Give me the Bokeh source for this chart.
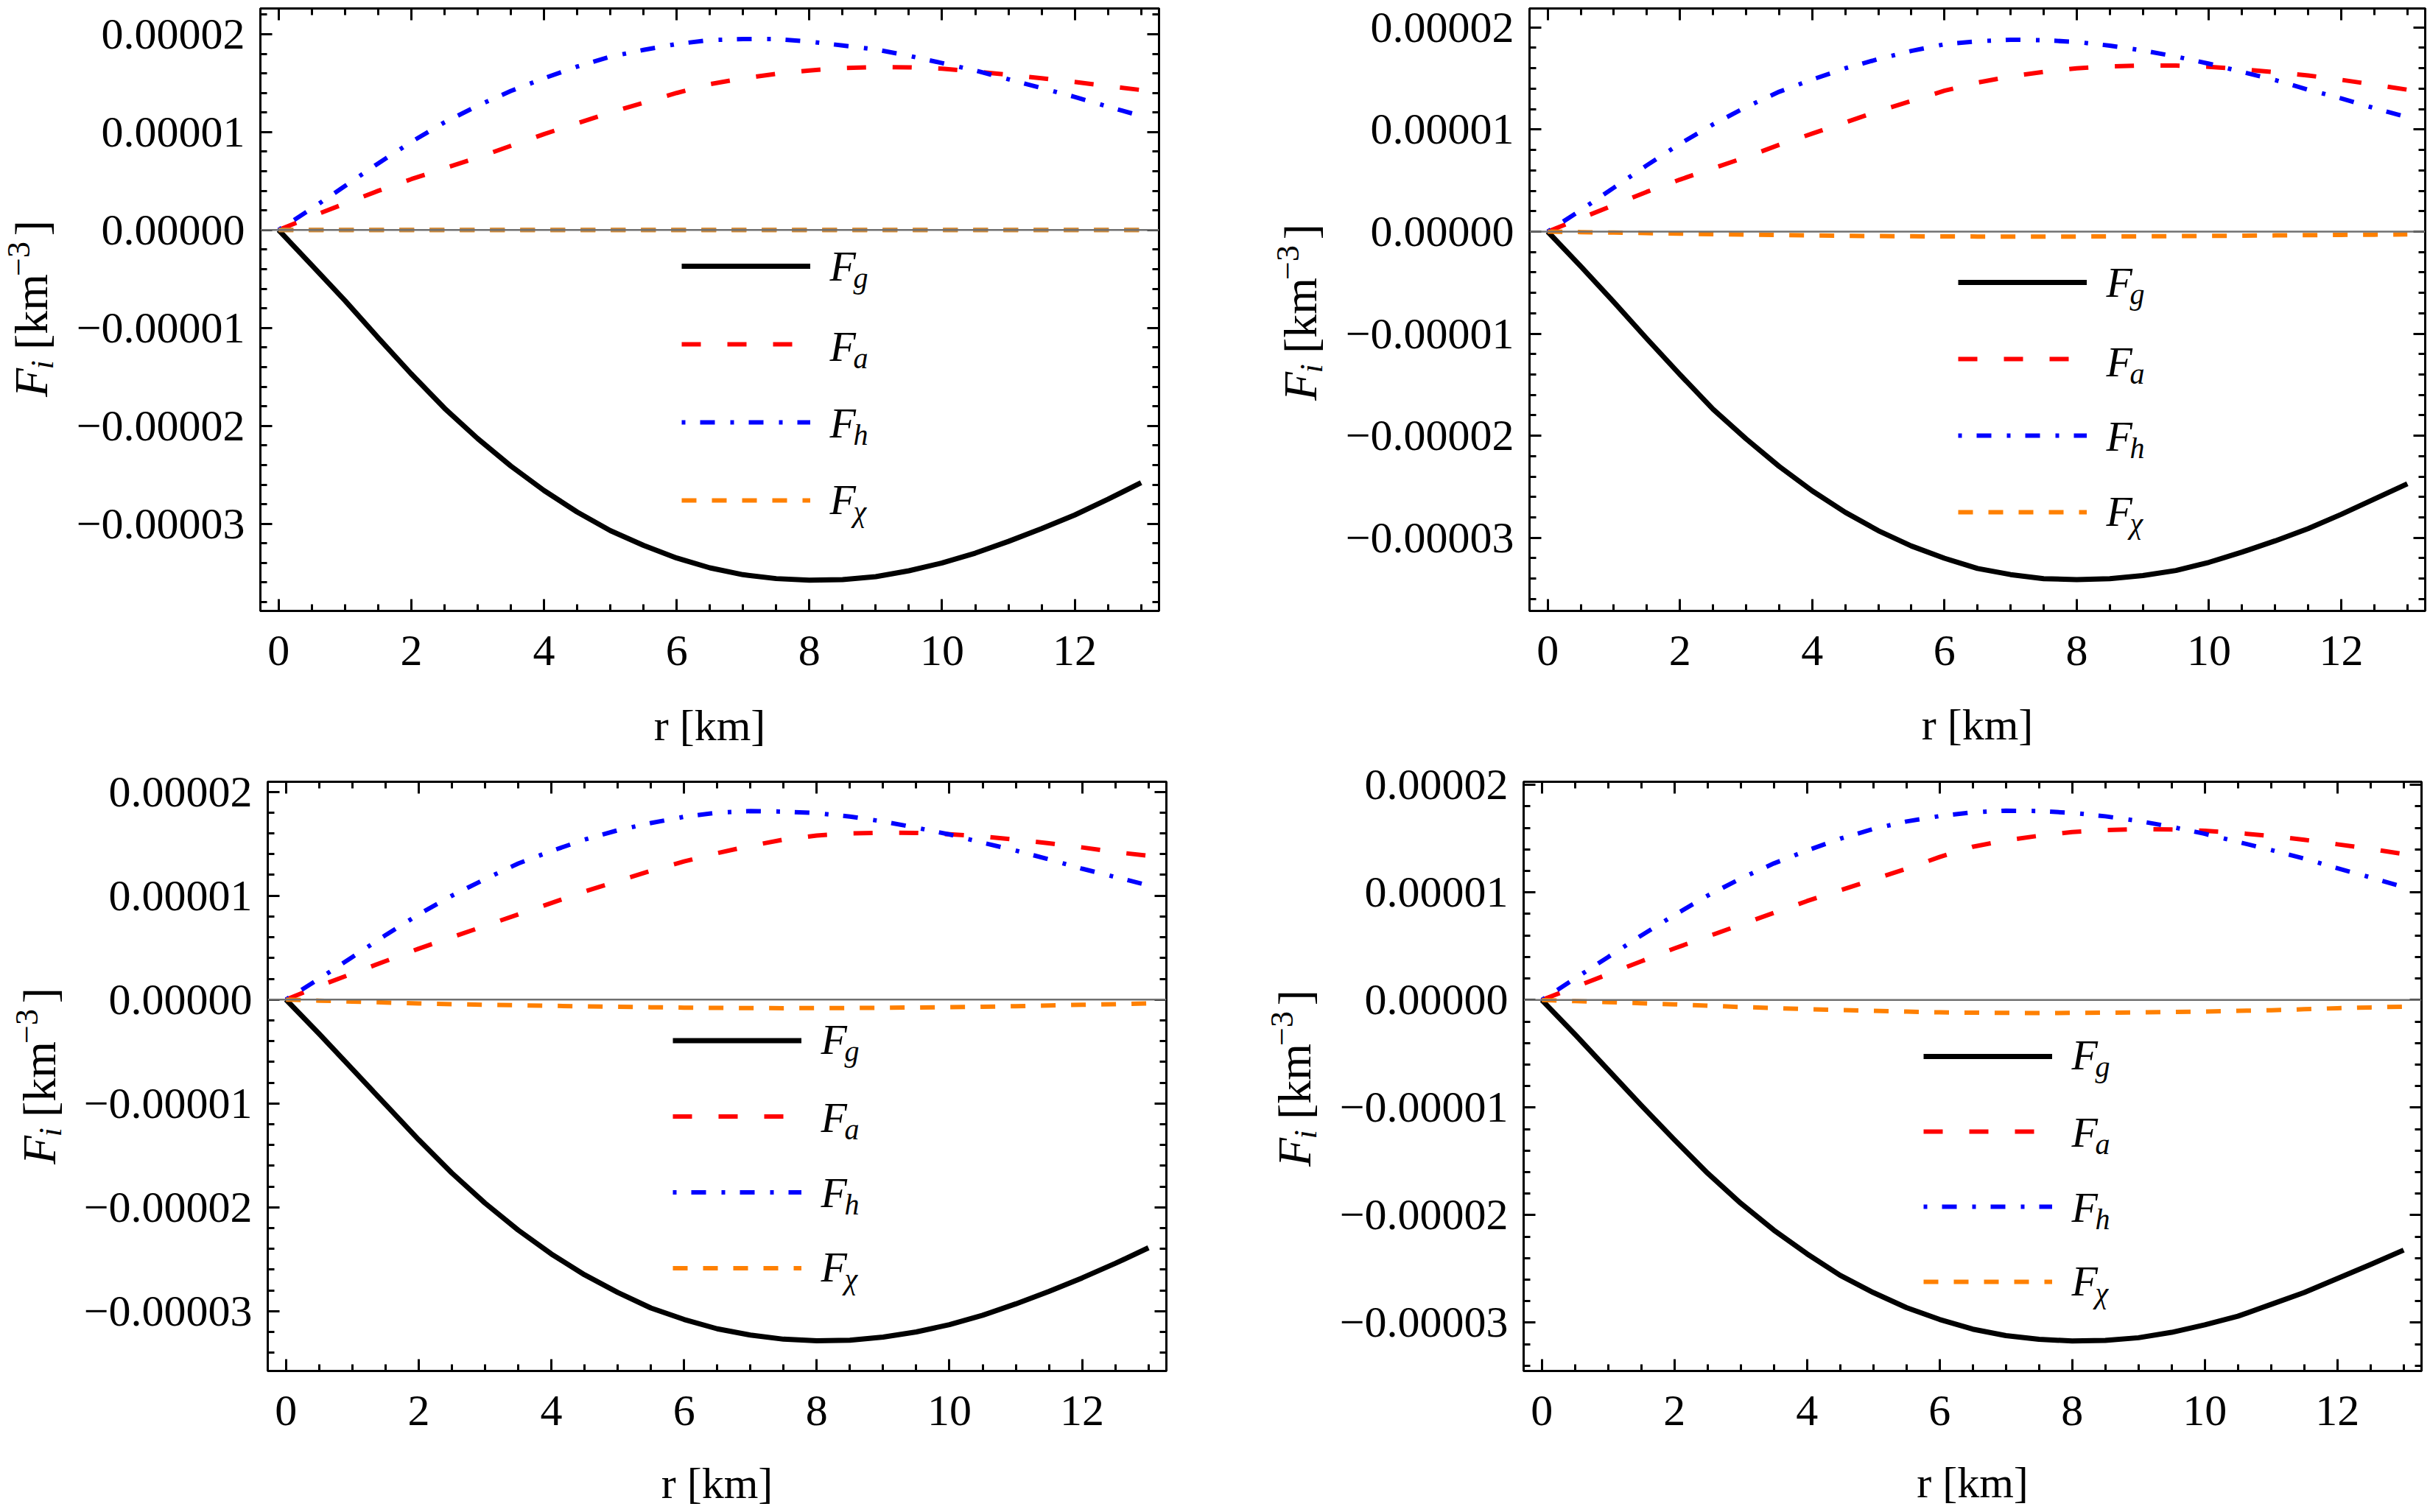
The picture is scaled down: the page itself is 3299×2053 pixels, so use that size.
import math
from bokeh.plotting import figure
from bokeh.models import (Range1d, LinearAxis, FixedTicker, CustomJSTickFormatter,
                          Span, Legend, LegendItem, Label)
from bokeh.layouts import row, column
from bokeh.embed import file_html
from bokeh.resources import INLINE

# ---------------- data (values in units of 1e-5 km^-3) ----------------
r_km = [0, 0.5, 1, 1.5, 2, 2.5, 3, 3.5, 4, 4.5, 5, 5.5, 6, 6.5, 7, 7.5, 8, 8.5,
        9, 9.5, 10, 10.5, 11, 11.5, 12, 12.5, 13]
UNIT = 1e-5

tl_Fg = [0, -0.36, -0.72, -1.10, -1.47, -1.82, -2.13, -2.41, -2.66, -2.88, -3.07, -3.22,
         -3.35, -3.45, -3.52, -3.56, -3.576, -3.57, -3.54, -3.48, -3.40, -3.30, -3.18,
         -3.05, -2.91, -2.75, -2.58]
tl_Fa = [0, 0.14, 0.27, 0.40, 0.52, 0.63, 0.74, 0.86, 0.98, 1.09, 1.20, 1.30, 1.40, 1.49,
         1.55, 1.595, 1.63, 1.655, 1.665, 1.662, 1.648, 1.62, 1.585, 1.55, 1.512, 1.47, 1.43]
tl_Fh = [0, 0.22, 0.45, 0.68, 0.90, 1.10, 1.27, 1.42, 1.55, 1.67, 1.77, 1.84, 1.90, 1.94,
         1.95, 1.95, 1.925, 1.885, 1.845, 1.78, 1.705, 1.63, 1.54, 1.45, 1.36, 1.26, 1.165]
tl_Fchi = [0, 0, 0, 0, 0, 0, 0, 0, 0, 0, 0, 0, 0, 0, 0, 0, 0, 0, 0, 0, 0, 0, 0, 0, 0, 0, 0]

tr_Fg = [0, -0.34, -0.69, -1.05, -1.40, -1.74, -2.03, -2.30, -2.54, -2.75, -2.93, -3.08,
         -3.20, -3.30, -3.36, -3.40, -3.41, -3.40, -3.37, -3.32, -3.24, -3.14, -3.03,
         -2.91, -2.77, -2.62, -2.47]
tr_Fa = [0, 0.13, 0.26, 0.39, 0.51, 0.62, 0.73, 0.85, 0.96, 1.07, 1.18, 1.28, 1.38, 1.46,
         1.52, 1.565, 1.60, 1.618, 1.627, 1.626, 1.615, 1.59, 1.562, 1.53, 1.487, 1.44, 1.39]
tr_Fh = [0, 0.21, 0.43, 0.65, 0.86, 1.05, 1.22, 1.37, 1.49, 1.60, 1.69, 1.77, 1.835, 1.865,
         1.88, 1.875, 1.858, 1.822, 1.775, 1.715, 1.645, 1.565, 1.485, 1.39, 1.305, 1.21, 1.12]
tr_Fchi = [0, -0.005, -0.01, -0.015, -0.02, -0.025, -0.03, -0.034, -0.038, -0.041, -0.044,
           -0.046, -0.047, -0.048, -0.048, -0.048, -0.048, -0.047, -0.046, -0.044, -0.042,
           -0.040, -0.037, -0.035, -0.032, -0.030, -0.028]

bl_Fg = [0, -0.33, -0.67, -1.01, -1.35, -1.67, -1.96, -2.22, -2.45, -2.65, -2.82, -2.97,
         -3.08, -3.17, -3.23, -3.27, -3.285, -3.28, -3.25, -3.20, -3.13, -3.04, -2.93,
         -2.81, -2.68, -2.54, -2.39]
bl_Fa = [0, 0.13, 0.25, 0.37, 0.49, 0.60, 0.71, 0.82, 0.93, 1.04, 1.14, 1.24, 1.33, 1.41,
         1.48, 1.54, 1.58, 1.60, 1.607, 1.605, 1.592, 1.57, 1.54, 1.505, 1.465, 1.42, 1.385]
bl_Fh = [0, 0.20, 0.41, 0.62, 0.82, 1.00, 1.16, 1.31, 1.43, 1.54, 1.63, 1.70, 1.76, 1.80,
         1.815, 1.81, 1.795, 1.762, 1.715, 1.655, 1.59, 1.51, 1.435, 1.35, 1.26, 1.18, 1.10]
bl_Fchi = [0, -0.01, -0.02, -0.028, -0.037, -0.044, -0.05, -0.055, -0.06, -0.065, -0.07,
           -0.074, -0.078, -0.08, -0.082, -0.083, -0.082, -0.081, -0.079, -0.076, -0.073,
           -0.069, -0.064, -0.057, -0.05, -0.044, -0.037]

br_Fg = [0, -0.32, -0.65, -0.98, -1.30, -1.61, -1.89, -2.14, -2.36, -2.56, -2.72, -2.86,
         -2.97, -3.06, -3.12, -3.155, -3.17, -3.165, -3.14, -3.09, -3.02, -2.94, -2.83,
         -2.72, -2.59, -2.46, -2.325]
br_Fa = [0, 0.12, 0.24, 0.36, 0.48, 0.59, 0.70, 0.81, 0.92, 1.02, 1.12, 1.22, 1.33, 1.425,
         1.485, 1.527, 1.562, 1.58, 1.588, 1.585, 1.573, 1.553, 1.525, 1.49, 1.448, 1.405, 1.357]
br_Fh = [0, 0.20, 0.40, 0.60, 0.79, 0.97, 1.13, 1.27, 1.39, 1.50, 1.59, 1.66, 1.71, 1.745,
         1.76, 1.757, 1.74, 1.708, 1.665, 1.61, 1.545, 1.47, 1.395, 1.315, 1.225, 1.14, 1.05]
br_Fchi = [0, -0.01, -0.02, -0.03, -0.04, -0.053, -0.065, -0.075, -0.085, -0.093, -0.10,
           -0.108, -0.115, -0.118, -0.12, -0.121, -0.12, -0.118, -0.115, -0.111, -0.107,
           -0.101, -0.095, -0.086, -0.076, -0.069, -0.062]

x_tick_values = [0, 2, 4, 6, 8, 10, 12]
x_minor_values = [0, 0.5, 1, 1.5, 2, 2.5, 3, 3.5, 4, 4.5, 5, 5.5, 6, 6.5, 7, 7.5, 8, 8.5,
                  9, 9.5, 10, 10.5, 11, 11.5, 12, 12.5, 13]
y_tick_values = [-3e-5, -2e-5, -1e-5, 0.0, 1e-5, 2e-5]
y_tick_labels = ["\u22120.00003", "\u22120.00002", "\u22120.00001", "0.00000", "0.00001", "0.00002"]
y_minor_values = [k * 2e-6 for k in range(-20, 13)]

legend_subscripts = ["g", "a", "h", "\u03c7"]
x_axis_label = "r [km]"
y_label_parts = ["F", "i", "[km", "\u22123", "]"]

FONT = "Liberation Serif"
COLORS = ["#000000", "#ff0000", "#0000ff", "#ff8000"]
CHI_ON_AXIS = "#c8893e"        # orange seen through the grey zero axis
WIDTHS = [7, 6, 6, 6]
DASHES = ["solid", "26 36", "5 20 20 21", "20 21"]

LAB_W = 100
ROW1_H = 1025
ROW2_H = 1026

# ---------------- layout per panel ----------------
panels = [
    dict(data=(tl_Fg, tl_Fa, tl_Fh, tl_Fchi), yr=(-3.89e-5, 2.263e-5), chi_axis=True,
         mbl=252, fw=1221, mbr=150, mbt=2, fh=829, H=ROW1_H,
         leg=(572, [360, 469, 573, 677], 831), ylab=(75, 412), xs=46),
    dict(data=(tr_Fg, tr_Fa, tr_Fh, tr_Fchi), yr=(-3.716e-5, 2.186e-5), chi_axis=False,
         mbl=252, fw=1217, mbr=4, mbt=11, fh=818, H=ROW1_H,
         leg=(582, [380, 487.5, 589, 691], 829), ylab=(75, 407), xs=45),
    dict(data=(bl_Fg, bl_Fa, bl_Fh, bl_Fchi), yr=(-3.576e-5, 2.097e-5), chi_axis=False,
         mbl=263, fw=1220, mbr=132, mbt=27, fh=809, H=ROW2_H,
         leg=(550, [1408, 1514, 1616, 1717], 1861), ylab=(86, 402), xs=43),
    dict(data=(br_Fg, br_Fa, br_Fh, br_Fchi), yr=(-3.449e-5, 2.029e-5), chi_axis=False,
         mbl=252, fw=1220, mbr=4, mbt=36, fh=802, H=ROW2_H,
         leg=(543, [1431, 1536, 1638, 1738], 1863), ylab=(75, 399), xs=42),
]


def style_axis(ax):
    ax.axis_line_color = "black"
    ax.axis_line_width = 3
    ax.major_tick_in = 16
    ax.major_tick_out = 0
    ax.minor_tick_in = 9
    ax.minor_tick_out = 0
    ax.major_tick_line_color = "black"
    ax.minor_tick_line_color = "black"
    ax.major_tick_line_width = 3
    ax.minor_tick_line_width = 3


def blank_axis(ax):
    style_axis(ax)
    ax.formatter = CustomJSTickFormatter(code="return '';")
    ax.major_label_text_font_size = "0px"
    ax.major_label_standoff = 0
    ax.axis_label = None


def make_label_fig(cfg):
    """narrow strip holding the rotated y-axis title  F_i [km^-3]"""
    q = figure(width=LAB_W, height=cfg["H"], x_range=Range1d(0, 1), y_range=Range1d(0, 1),
               output_backend="svg", toolbar_location=None, min_border=0,
               x_axis_type=None, y_axis_type=None)
    q.outline_line_color = None
    q.background_fill_color = "white"
    q.border_fill_color = "white"
    bx, c = cfg["ylab"]
    # (style, size, offset across the text, offset along the text) - each piece centred
    specs = [
        ("italic", "64px", -33, -102),
        ("italic", "44px", -18, -78),
        ("normal", "64px", -33, -6),
        ("normal", "44px", -50, 66),
        ("normal", "64px", -33, 108),
    ]
    for txt, (sty, size, dx, dy) in zip(y_label_parts, specs):
        q.add_layout(Label(x=bx + dx, y=c + dy, x_units="screen", y_units="screen", text=txt,
                           angle=math.pi / 2, angle_units="rad",
                           text_font=FONT, text_font_style=sty, text_font_size=size,
                           text_color="black", text_align="center",
                           text_baseline="middle"))
    return q


def make_panel(cfg):
    Fg, Fa, Fh, Fchi = cfg["data"]
    mbb = cfg["H"] - cfg["mbt"] - cfg["fh"]
    p = figure(width=cfg["mbl"] + cfg["fw"] + cfg["mbr"], height=cfg["H"],
               x_range=Range1d(-0.275, 13.27), y_range=Range1d(*cfg["yr"]),
               output_backend="svg", toolbar_location=None,
               min_border_left=cfg["mbl"], min_border_right=cfg["mbr"],
               min_border_top=cfg["mbt"], min_border_bottom=mbb)
    p.xgrid.visible = False
    p.ygrid.visible = False
    p.outline_line_color = "black"
    p.outline_line_width = 3
    p.background_fill_color = "white"
    p.border_fill_color = "white"

    rends = []
    for k, (series, col, lw, dash) in enumerate(zip((Fg, Fa, Fh, Fchi), COLORS, WIDTHS, DASHES)):
        ys = [v * UNIT for v in series]
        rr = p.line(r_km, ys, line_color=col, line_width=lw, line_dash=dash, line_join="round")
        rends.append(rr)
        if k == 3 and cfg["chi_axis"]:
            # on the zero axis the orange dashes look brownish (mixed with the grey axis)
            p.line(r_km, ys, line_color=CHI_ON_AXIS, line_width=lw, line_dash=dash,
                   line_join="round")

    p.add_layout(Span(location=0, dimension="width", line_color="#707070", line_width=2.5))

    # bottom axis
    xb = p.xaxis[0]
    style_axis(xb)
    xb.ticker = FixedTicker(ticks=x_tick_values, minor_ticks=x_minor_values)
    xb.major_label_text_font = FONT
    xb.major_label_text_font_size = "60px"
    xb.major_label_text_color = "black"
    xb.major_label_standoff = 34
    xb.axis_label = x_axis_label
    xb.axis_label_text_font = FONT
    xb.axis_label_text_font_size = "60px"
    xb.axis_label_text_font_style = "normal"
    xb.axis_label_text_color = "black"
    xb.axis_label_standoff = cfg["xs"]

    # left axis
    yl = p.yaxis[0]
    style_axis(yl)
    yl.ticker = FixedTicker(ticks=y_tick_values, minor_ticks=y_minor_values)
    yl.formatter = CustomJSTickFormatter(args=dict(vals=y_tick_values, labs=y_tick_labels), code="""
        let best = -1, bd = 1e9;
        for (let i = 0; i < vals.length; i++) {
            const d = Math.abs(vals[i] - tick);
            if (d < bd) { bd = d; best = i; }
        }
        return bd < 1e-10 ? labs[best] : "";
    """)
    yl.major_label_text_font = FONT
    yl.major_label_text_font_size = "60px"
    yl.major_label_text_color = "black"
    yl.major_label_standoff = 21
    yl.axis_label = None

    # top and right frame ticks
    xa = LinearAxis(ticker=FixedTicker(ticks=x_tick_values, minor_ticks=x_minor_values))
    blank_axis(xa)
    p.add_layout(xa, "above")
    yr = LinearAxis(ticker=FixedTicker(ticks=y_tick_values, minor_ticks=y_minor_values))
    blank_axis(yr)
    p.add_layout(yr, "right")

    # legend (line samples)
    lx, rows_abs, fb = cfg["leg"]
    rows_rel = [fb - ra for ra in rows_abs]          # centres, measured up from frame bottom
    gh = (rows_rel[0] - rows_rel[3]) / 3.0
    ly = rows_rel[3] - gh / 2 - 4
    items = [LegendItem(label=" ", renderers=[rr]) for rr in rends]
    leg = Legend(items=items, location=(lx, ly), orientation="vertical",
                 glyph_width=175, glyph_height=int(round(gh)), spacing=0, padding=0,
                 margin=0, label_standoff=0, label_width=0, label_height=0,
                 label_text_font_size="1px", border_line_color=None,
                 background_fill_alpha=0)
    p.add_layout(leg)

    # legend texts F_g, F_a, F_h, F_chi
    for yc, sub in zip(rows_rel, legend_subscripts):
        p.add_layout(Label(x=lx + 201, y=yc - 3, x_units="screen", y_units="screen",
                           text="F", text_font=FONT, text_font_style="italic",
                           text_font_size="58px", text_color="black",
                           text_align="left", text_baseline="middle"))
        p.add_layout(Label(x=lx + 233, y=yc - 19, x_units="screen", y_units="screen",
                           text=sub, text_font=FONT, text_font_style="italic",
                           text_font_size="40px", text_color="black",
                           text_align="left", text_baseline="middle"))
    return p


figs = [make_panel(cfg) for cfg in panels]
labs = [make_label_fig(cfg) for cfg in panels]
layout = column(row(labs[0], figs[0], labs[1], figs[1]),
                row(labs[2], figs[2], labs[3], figs[3]))

open("out.html", "w").write(file_html(layout, INLINE))
